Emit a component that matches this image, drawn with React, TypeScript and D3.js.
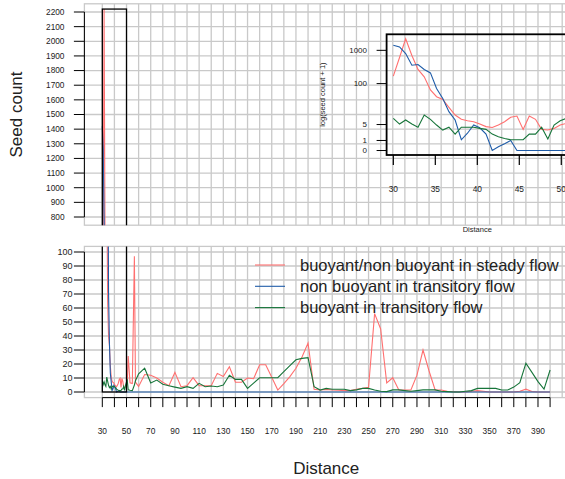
import React, { useRef, useEffect } from 'react';
import { select, scaleLinear, line, range, max } from 'd3';

// dense samples between 30 and 50 (shown in the inset)
const nearDistance = [30, 30.74, 31.47, 32.21, 32.94, 33.68, 34.42, 35.15, 35.89, 36.62, 37.36, 38.1, 38.83, 39.57, 40.3, 41.04, 41.78, 42.51, 43.25, 43.98, 44.72, 45.46, 46.19, 46.93, 47.66, 48.4, 49.14, 49.87, 50.61];
const nearSteady = [168, 610, 2220, 700, 267, 160, 64, 40, 33, 18.7, 10.6, 7.6, 6.8, 6.3, 5.2, 4.2, 3.9, 4.8, 6.3, 8.9, 9.8, 3.3, 9.8, 7.6, 3.3, 3.1, 3.6, 4.8, 5.5];
const nearNonBuoyant = [1420, 1260, 800, 357, 375, 266, 210, 71, 35, 13.6, 7.2, 1.1, 2.3, 4.8, 3.8, 2.1, 0, 0.3, 0.6, 1, 0, 0, 0, 0, 0, 0, 0, 0, 0];
const nearBuoyant = [8.2, 5.2, 7.2, 5.2, 4, 10.6, 7.6, 4.8, 3.1, 4, 2.1, 4, 4, 4, 3.6, 3.3, 2.1, 1.6, 1.3, 1.1, 1.1, 1.1, 2.1, 2.1, 4, 1.2, 4.8, 6.8, 8.2];

// sparser samples further downstream
const farDistance = [51.4, 52.9, 54.8, 56.5, 57.4,
  60, 65, 70, 75, 80, 85, 90, 95, 100, 105, 110, 115, 120, 125, 130, 135, 140, 145, 150, 155,
  160, 165, 170, 175, 180, 185, 190, 195, 200, 205, 210, 215, 220, 225, 230, 235, 240, 245, 250,
  255, 260, 265, 270, 275, 280, 285, 290, 295, 300, 305, 310, 315, 320, 325, 330, 335, 340, 345,
  350, 355, 360, 365, 370, 375, 380, 385, 390, 395, 400];
const farSteady = [25.7, 6.5, 6, 97, 7,
  4, 12.5, 12, 10, 7, 4.5, 14, 3.8, 4.5, 10.2, 4.5, 4.5, 4.5, 13.3, 11, 18, 7, 7, 10, 9.5,
  19.5, 19.5, 10.5, 1.4, 6, 11, 17, 25, 35, 2, 1.4, 1.9, 1.4, 1.2, 1, 1, 2, 2.6, 3.3,
  56, 45, 6.5, 10.2, 1.4, 1.4, 1.4, 12, 30, 15, 1.4, 1.4, 0.5, 0.3, 0, 0, 0.5, 1, 0.5,
  0, 0, 0, 0, 0, 0.5, 2, 0.3, 0, 0, 0];
const farNonBuoyant = [0, 0, 0, 0, 0,
  0, 0, 0, 0, 0, 0, 0, 0, 0, 0, 0, 0, 0, 0, 0, 0, 0, 0, 0, 0,
  0, 0, 0, 0, 0, 0, 0, 0, 0, 0, 0, 0, 0, 0, 0, 0, 0, 0, 0,
  0, 0, 0, 0, 0, 0, 0, 0, 0, 0, 0, 0, 0, 0, 0, 0, 0, 0, 0,
  0, 0, 0, 0, 0, 0, 0, 0, 0, 0, 0];
const farBuoyant = [1.5, 1.2, 1, 5, 8,
  13, 17, 6.5, 8.5, 5.5, 4.5, 3.5, 2.6, 3.8, 2.6, 6.2, 3.8, 4.3, 3.8, 5, 12, 9, 9, 2.6, 6.4,
  10.2, 10.2, 10.2, 10.2, 14.5, 18.8, 23, 24, 24.5, 3.8, 1.4, 2.6, 2, 2, 2, 1, 1.5, 2.6, 2.6,
  1.4, 0.5, 0.3, 1.5, 1.5, 1, 0.5, 1, 1.5, 1.5, 1.5, 0.5, 0.3, 0, 0, 0.5, 1, 2.6, 2.6,
  2.6, 2.6, 1.4, 1.4, 3.5, 6.7, 20.5, 14, 7.4, 2, 15.7];

const seriesNames = [
  'buoyant/non buoyant in steady flow',
  'non buoyant in transitory flow',
  'buoyant in transitory flow',
];
const seriesColors = ['#ff7070', '#1f5ca8', '#17753a'];

const upperTicks = [800, 900, 1000, 1100, 1200, 1300, 1400, 1500, 1600, 1700, 1800, 1900, 2000, 2100, 2200];
const lowerTicks = [0, 10, 20, 30, 40, 50, 60, 70, 80, 90, 100];
const distanceTicks = [30, 40, 50, 60, 70, 80, 90, 100, 110, 120, 130, 140, 150, 160, 170, 180, 190, 200, 210, 220, 230, 240, 250, 260, 270, 280, 290, 300, 310, 320, 330, 340, 350, 360, 370, 380, 390, 400];
const distanceLabels = [30, 50, 70, 90, 110, 130, 150, 170, 190, 210, 230, 250, 270, 290, 310, 330, 350, 370, 390];
const insetTicks = [0, 1, 5, 100, 1000];
const insetDistanceTicks = [30, 35, 40, 45, 50];
const zoomRange = [30, 50];

const dim = {
  width: 565,
  height: 479,
  left: 84.4,
  right: 568,
  upTop: 3.8,
  upBottom: 225.2,
  lowTop: 246.4,
  lowBottom: 397.6,
  insetLeft: 386.6,
  insetRight: 568,
  insetTop: 34.3,
  insetBottom: 155,
  grid: '#c9c9c9',
  font: 'Liberation Sans, Arial, Helvetica, sans-serif',
};

const App: React.FC = () => {
  const svgRef = useRef(null);

  useEffect(() => {
    const svg = select(svgRef.current);
    svg.selectAll('*').remove();

    const distance = nearDistance.concat(farDistance);
    const series = [
      nearSteady.concat(farSteady),
      nearNonBuoyant.concat(farNonBuoyant),
      nearBuoyant.concat(farBuoyant),
    ];
    const top = max(series.map((s) => max(s) as number)) as number;

    const xMain = scaleLinear()
      .domain([30 - 0.04 * 370, 400 + 0.04 * 370])
      .range([dim.left, dim.right]);
    const yUp = scaleLinear()
      .domain([800 - 0.04 * 1400, 2200 + 0.04 * 1400])
      .range([dim.upBottom, dim.upTop]);
    const yLow = scaleLinear()
      .domain([-0.04 * 100, 100 * 1.04])
      .range([dim.lowBottom, dim.lowTop]);
    const xInset = scaleLinear()
      .domain([30 - 0.04 * 20, 50 + 0.04 * 20])
      .range([dim.insetLeft, dim.insetRight]);
    const logTop = Math.log(top + 1);
    const yInset = scaleLinear()
      .domain([-0.04 * logTop, logTop * 1.04])
      .range([dim.insetBottom, dim.insetTop]);

    const defs = svg.append('defs');
    const clip = (id: string, x0: number, y0: number, x1: number, y1: number) =>
      defs.append('clipPath').attr('id', id).append('rect')
        .attr('x', x0).attr('y', y0).attr('width', x1 - x0).attr('height', y1 - y0);
    clip('clipUp', dim.left, dim.upTop, dim.right, dim.upBottom);
    clip('clipLow', dim.left, dim.lowTop, dim.right, dim.lowBottom);
    clip('clipInset', dim.insetLeft, dim.insetTop, dim.insetRight, dim.insetBottom);

    const gridLines = range(30, 411, 10);

    // panel backgrounds: grid + light frame
    const panel = (y: any, hTicks: number[], y0: number, y1: number) => {
      const g = svg.append('g').attr('stroke', dim.grid).attr('stroke-width', 1.3);
      g.selectAll('line.v').data(gridLines).join('line')
        .attr('x1', (d) => xMain(d)).attr('x2', (d) => xMain(d))
        .attr('y1', y0).attr('y2', y1);
      g.selectAll('line.h').data(hTicks).join('line')
        .attr('x1', dim.left).attr('x2', dim.right)
        .attr('y1', (d) => y(d)).attr('y2', (d) => y(d));
      g.append('rect').attr('x', dim.left).attr('y', y0)
        .attr('width', dim.right - dim.left).attr('height', y1 - y0).attr('fill', 'none');
    };
    panel(yUp, upperTicks, dim.upTop, dim.upBottom);
    panel(yLow, lowerTicks, dim.lowTop, dim.lowBottom);

    const drawSeries = (x: any, y: any, clipId: string, transform: (v: number) => number) => {
      const g = svg.append('g').attr('clip-path', `url(#${clipId})`);
      series.forEach((s, k) => {
        const path = line<number>()
          .x((_, i) => x(distance[i]))
          .y((v) => y(transform(v)));
        g.append('path').attr('d', path(s)).attr('fill', 'none')
          .attr('stroke', seriesColors[k]).attr('stroke-width', 1.1);
      });
      return g;
    };

    // zoom rectangles + series in main panels
    [
      { y: yUp, id: 'clipUp' },
      { y: yLow, id: 'clipLow' },
    ].forEach(({ y, id }) => {
      const g = drawSeries(xMain, y, id, (v) => v);
      g.append('rect')
        .attr('x', xMain(zoomRange[0])).attr('y', y(top))
        .attr('width', xMain(zoomRange[1]) - xMain(zoomRange[0]))
        .attr('height', y(0) - y(top))
        .attr('fill', 'none').attr('stroke', 'black').attr('stroke-width', 1.3);
    });

    const axisText = (g: any) => g.attr('font-family', dim.font).attr('fill', '#222');

    // left axes
    const leftAxis = (y: any, ticks: number[], labelX: number, size: number) => {
      const g = svg.append('g');
      g.append('line').attr('x1', dim.left).attr('x2', dim.left)
        .attr('y1', y(ticks[0])).attr('y2', y(ticks[ticks.length - 1]))
        .attr('stroke', 'black');
      g.selectAll('line.t').data(ticks).join('line')
        .attr('x1', dim.left - 10.5).attr('x2', dim.left)
        .attr('y1', (d) => y(d)).attr('y2', (d) => y(d)).attr('stroke', 'black');
      axisText(g.selectAll('text').data(ticks).join('text'))
        .attr('x', labelX).attr('y', (d: number) => y(d)).attr('dy', '0.35em')
        .attr('text-anchor', 'end').attr('font-size', size).text((d: number) => d);
    };
    leftAxis(yUp, upperTicks, 64.5, 8.3);
    leftAxis(yLow, lowerTicks, 72.5, 9);

    // bottom axis
    const bottom = svg.append('g');
    bottom.append('line').attr('x1', xMain(30)).attr('x2', xMain(400))
      .attr('y1', dim.lowBottom).attr('y2', dim.lowBottom).attr('stroke', 'black');
    bottom.selectAll('line.t').data(distanceTicks).join('line')
      .attr('x1', (d) => xMain(d)).attr('x2', (d) => xMain(d))
      .attr('y1', dim.lowBottom).attr('y2', dim.lowBottom + 9.5).attr('stroke', 'black');
    axisText(bottom.selectAll('text').data(distanceLabels).join('text'))
      .attr('x', (d: number) => xMain(d)).attr('y', 434.3)
      .attr('text-anchor', 'middle').attr('font-size', 8.4).text((d: number) => d);

    axisText(svg.append('text'))
      .attr('x', (dim.left + dim.right) / 2).attr('y', 474)
      .attr('text-anchor', 'middle').attr('font-size', 17).text('Distance');
    axisText(svg.append('text'))
      .attr('transform', `translate(21.7, ${(dim.upTop + dim.upBottom) / 2}) rotate(-90)`)
      .attr('text-anchor', 'middle').attr('font-size', 17).text('Seed count');

    // inset: log(seed count + 1) over the zoomed range
    drawSeries(xInset, yInset, 'clipInset', (v) => Math.log(v + 1));
    svg.append('rect')
      .attr('x', dim.insetLeft).attr('y', dim.insetTop)
      .attr('width', dim.insetRight - dim.insetLeft)
      .attr('height', dim.insetBottom - dim.insetTop)
      .attr('fill', 'none').attr('stroke', 'black').attr('stroke-width', 1.8);
    const inset = svg.append('g');
    inset.selectAll('line.y').data(insetTicks).join('line')
      .attr('x1', dim.insetLeft - 10).attr('x2', dim.insetLeft)
      .attr('y1', (d) => yInset(Math.log(d + 1))).attr('y2', (d) => yInset(Math.log(d + 1)))
      .attr('stroke', 'black');
    axisText(inset.selectAll('text.y').data(insetTicks).join('text'))
      .attr('x', 367).attr('y', (d: number) => yInset(Math.log(d + 1))).attr('dy', '0.35em')
      .attr('text-anchor', 'end').attr('font-size', 8).text((d: number) => d);
    inset.selectAll('line.x').data(insetDistanceTicks).join('line')
      .attr('x1', (d) => xInset(d)).attr('x2', (d) => xInset(d))
      .attr('y1', dim.insetBottom).attr('y2', dim.insetBottom + 10)
      .attr('stroke', 'black').attr('stroke-width', 1.2);
    axisText(inset.selectAll('text.x').data(insetDistanceTicks).join('text'))
      .attr('x', (d: number) => xInset(d)).attr('y', 192)
      .attr('text-anchor', 'middle').attr('font-size', 8.4).text((d: number) => d);
    axisText(inset.append('text'))
      .attr('x', (dim.insetLeft + dim.insetRight) / 2).attr('y', 232)
      .attr('text-anchor', 'middle').attr('font-size', 7.5).text('Distance');
    axisText(inset.append('text'))
      .attr('transform', `translate(324.5, ${(dim.insetTop + dim.insetBottom) / 2}) rotate(-90)`)
      .attr('text-anchor', 'middle').attr('font-size', 7.5).text('log(seed count + 1)');

    // legend, no box
    const legend = svg.append('g');
    seriesNames.forEach((name, k) => {
      const y = 265 + k * 21.3;
      legend.append('line').attr('x1', 255).attr('x2', 285)
        .attr('y1', y).attr('y2', y)
        .attr('stroke', seriesColors[k]).attr('stroke-width', 1.1);
      axisText(legend.append('text'))
        .attr('x', 300).attr('y', y).attr('dy', '0.35em')
        .attr('font-size', 16.5).text(name);
    });
  }, []);

  return (
    <svg
      ref={svgRef}
      width={dim.width}
      height={dim.height}
      style={{ position: 'absolute', left: 0, top: 0, background: 'white' }}
    />
  );
};

export default App;
